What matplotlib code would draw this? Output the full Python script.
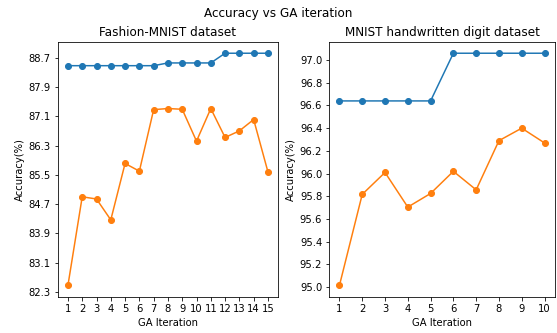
import numpy as np
import matplotlib
matplotlib.use('Agg')
import matplotlib.pyplot as plt

# Fashion-MNIST
fashion_iter = list(range(1, 16))
fashion_best = [88.48, 88.48, 88.48, 88.48, 88.48, 88.48, 88.48, 88.555, 88.555, 88.555, 88.555, 88.82, 88.82, 88.82, 88.82]
fashion_avg = [82.48, 84.90, 84.84, 84.27, 85.81, 85.60, 87.28, 87.31, 87.29, 86.42, 87.31, 86.52, 86.70, 87.01, 85.58]
fashion_ticks = [82.3, 83.1, 83.9, 84.7, 85.5, 86.3, 87.1, 87.9, 88.7]

# MNIST
mnist_iter = list(range(1, 11))
mnist_best = [96.64, 96.64, 96.64, 96.64, 96.64, 97.06, 97.06, 97.06, 97.06, 97.06]
mnist_avg = [95.015, 95.817, 96.01, 95.705, 95.825, 96.02, 95.857, 96.29, 96.40, 96.27]
mnist_ticks = [95.0, 95.2, 95.4, 95.6, 95.8, 96.0, 96.2, 96.4, 96.6, 96.8, 97.0]

# drawn at 72 dpi so the text is the same size as the reference
fig = plt.figure(figsize=(557 / 72, 333 / 72), dpi=72)
ax1 = fig.add_axes([0.104, 0.108, 0.395, 0.767])
ax2 = fig.add_axes([0.591, 0.108, 0.405, 0.767])

ax1.plot(fashion_iter, fashion_best, marker='o')
ax1.plot(fashion_iter, fashion_avg, marker='o')
ax1.set_xticks(fashion_iter)
ax1.set_yticks(fashion_ticks)
ax1.set_title('Fashion-MNIST dataset')
ax1.set_xlabel('GA Iteration')
ax1.set_ylabel('Accuracy(%)')

ax2.plot(mnist_iter, mnist_best, marker='o')
ax2.plot(mnist_iter, mnist_avg, marker='o')
ax2.set_xticks(mnist_iter)
ax2.set_yticks(mnist_ticks)
ax2.set_title('MNIST handwritten digit dataset')
ax2.set_xlabel('GA Iteration')
ax2.set_ylabel('Accuracy(%)')

fig.suptitle('Accuracy vs GA iteration')
plt.savefig('out.png', dpi=72)
